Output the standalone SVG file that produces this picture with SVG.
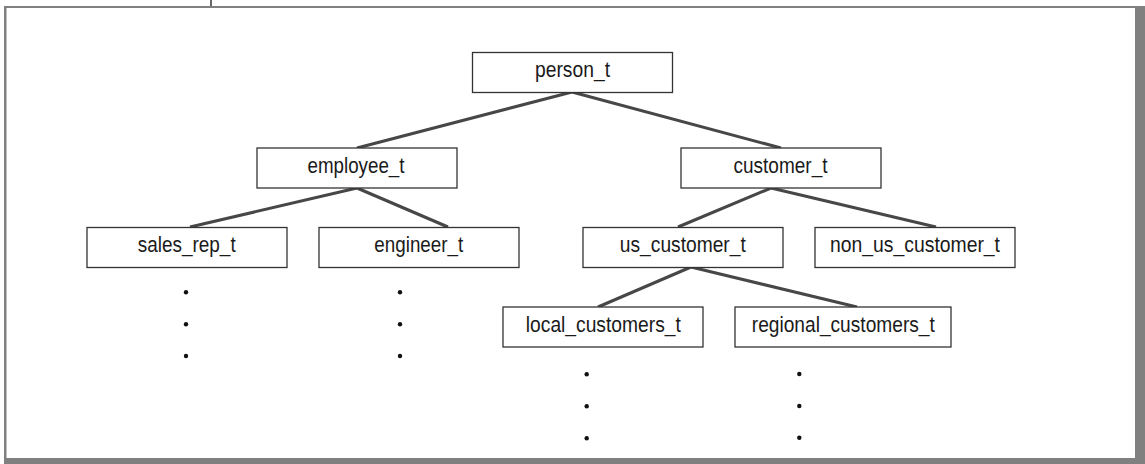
<svg xmlns="http://www.w3.org/2000/svg" width="1145" height="464" viewBox="0 0 1145 464">
  <style>
    .box { fill: #ffffff; stroke: #333333; stroke-width: 1.3; }
    .label { font-family: "Liberation Sans", Arial, sans-serif; font-size: 22px; fill: #1a1a1a; text-anchor: middle; }
    .edge { stroke: #474747; stroke-width: 3; fill: none; stroke-linecap: butt; }
    .dot { fill: #111111; }
    .frame { fill: #808080; }
  </style>
  <rect width="1145" height="464" fill="#ffffff"/>

  <!-- page frame -->
  <g id="frame">
    <rect class="frame" x="4" y="6" width="1141" height="2"/>
    <rect class="frame" x="4" y="6" width="2.5" height="458"/>
    <rect class="frame" x="1135" y="6" width="10" height="458"/>
    <rect class="frame" x="4" y="458" width="1141" height="6"/>
    <line x1="211" y1="0" x2="211" y2="6" stroke="#333333" stroke-width="1.5"/>
  </g>

  <!-- connectors -->
  <g id="connectors">
    <line class="edge" x1="572" y1="92" x2="357" y2="148"/>
    <line class="edge" x1="572" y1="92" x2="781" y2="148"/>
    <line class="edge" x1="357" y1="188" x2="190" y2="227"/>
    <line class="edge" x1="357" y1="188" x2="448" y2="227"/>
    <line class="edge" x1="771" y1="188" x2="678" y2="227"/>
    <line class="edge" x1="771" y1="188" x2="936" y2="227"/>
    <line class="edge" x1="691" y1="267" x2="598" y2="307"/>
    <line class="edge" x1="691" y1="267" x2="857" y2="307"/>
  </g>

  <g id="person_t">
    <rect class="box" x="472.5" y="52.5" width="200" height="40"/>
    <text class="label" x="572.5" y="76.5" textLength="75" lengthAdjust="spacingAndGlyphs">person_t</text>
  </g>
  <g id="employee_t">
    <rect class="box" x="257" y="148" width="200" height="40"/>
    <text class="label" x="356" y="172.5" textLength="97" lengthAdjust="spacingAndGlyphs">employee_t</text>
  </g>
  <g id="customer_t">
    <rect class="box" x="681" y="148" width="200" height="40"/>
    <text class="label" x="780.5" y="172.5" textLength="94" lengthAdjust="spacingAndGlyphs">customer_t</text>
  </g>
  <g id="sales_rep_t">
    <rect class="box" x="87" y="227.5" width="200" height="40"/>
    <text class="label" x="186.7" y="252" textLength="98" lengthAdjust="spacingAndGlyphs">sales_rep_t</text>
  </g>
  <g id="engineer_t">
    <rect class="box" x="319" y="227.5" width="200" height="40"/>
    <text class="label" x="418.8" y="252" textLength="89" lengthAdjust="spacingAndGlyphs">engineer_t</text>
  </g>
  <g id="us_customer_t">
    <rect class="box" x="583" y="227.5" width="200" height="40"/>
    <text class="label" x="682.8" y="252" textLength="126" lengthAdjust="spacingAndGlyphs">us_customer_t</text>
  </g>
  <g id="non_us_customer_t">
    <rect class="box" x="815" y="227.5" width="200" height="40"/>
    <text class="label" x="915" y="252" textLength="170" lengthAdjust="spacingAndGlyphs">non_us_customer_t</text>
  </g>
  <g id="local_customers_t">
    <rect class="box" x="503" y="307" width="200" height="40"/>
    <text class="label" x="603.3" y="331.5" textLength="155" lengthAdjust="spacingAndGlyphs">local_customers_t</text>
  </g>
  <g id="regional_customers_t">
    <rect class="box" x="735" y="307" width="216" height="40"/>
    <text class="label" x="843.3" y="331.5" textLength="183" lengthAdjust="spacingAndGlyphs">regional_customers_t</text>
  </g>

  <!-- continuation dots -->
  <g id="continuations">
    <circle class="dot" cx="186" cy="292.3" r="2.2"/>
    <circle class="dot" cx="186" cy="324.2" r="2.2"/>
    <circle class="dot" cx="186" cy="356" r="2.2"/>
    <circle class="dot" cx="400" cy="292.3" r="2.2"/>
    <circle class="dot" cx="400" cy="324.2" r="2.2"/>
    <circle class="dot" cx="400" cy="356" r="2.2"/>
    <circle class="dot" cx="586.7" cy="374.3" r="2.2"/>
    <circle class="dot" cx="586.7" cy="406.3" r="2.2"/>
    <circle class="dot" cx="586.7" cy="438.3" r="2.2"/>
    <circle class="dot" cx="799.3" cy="374" r="2.2"/>
    <circle class="dot" cx="799.3" cy="406" r="2.2"/>
    <circle class="dot" cx="799.3" cy="437.7" r="2.2"/>
  </g>
</svg>
